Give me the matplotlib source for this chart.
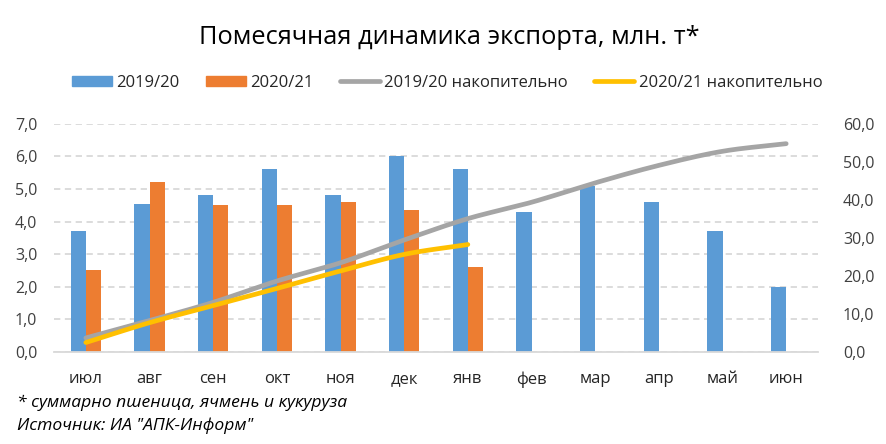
import numpy as np
import matplotlib
matplotlib.use("Agg")
import matplotlib.pyplot as plt
from matplotlib.patches import Patch
from matplotlib.lines import Line2D

plt.rcParams['font.family'] = ['Open Sans', 'DejaVu Sans']

months = ["июл", "авг", "сен", "окт", "ноя", "дек", "янв", "фев", "мар", "апр", "май", "июн"]
exp_1920 = [3.7, 4.55, 4.8, 5.6, 4.8, 6.0, 5.6, 4.3, 5.1, 4.6, 3.7, 2.0]
exp_2021 = [2.5, 5.2, 4.5, 4.5, 4.6, 4.35, 2.6]
cum_1920 = [3.7, 8.25, 13.05, 18.65, 23.45, 29.45, 35.05, 39.35, 44.45, 49.05, 52.75, 54.75]
cum_2021 = [2.5, 7.7, 12.2, 16.7, 21.3, 25.65, 28.25]
left_ticks = [0, 1, 2, 3, 4, 5, 6, 7]
right_ticks = [0, 10, 20, 30, 40, 50, 60]

C_BLUE = "#5B9BD5"
C_ORANGE = "#ED7D31"
C_GRAY = "#A5A5A5"
C_YELLOW = "#FFC000"
C_GRID = "#D9D9D9"


def smooth(x, y, n=20):
    x = np.asarray(x, float)
    y = np.asarray(y, float)
    if len(x) < 3:
        return x, y
    px = np.concatenate([[2 * x[0] - x[1]], x, [2 * x[-1] - x[-2]]])
    py = np.concatenate([[2 * y[0] - y[1]], y, [2 * y[-1] - y[-2]]])
    xs, ys = [], []
    t = np.linspace(0, 1, n, endpoint=False)
    for i in range(1, len(px) - 2):
        p0, p1, p2, p3 = (np.array([px[j], py[j]]) for j in (i - 1, i, i + 1, i + 2))
        tt = t[:, None]
        pts = 0.5 * ((2 * p1) + (-p0 + p2) * tt + (2 * p0 - 5 * p1 + 4 * p2 - p3) * tt ** 2
                     + (-p0 + 3 * p1 - 3 * p2 + p3) * tt ** 3)
        xs.extend(pts[:, 0])
        ys.extend(pts[:, 1])
    xs.append(x[-1])
    ys.append(y[-1])
    return np.array(xs), np.array(ys)


fig = plt.figure(figsize=(8.86, 4.44), dpi=100)
ax = fig.add_axes([54 / 886, 1 - 352 / 444, (818 - 54) / 886, (352 - 123.7) / 444])
ax2 = ax.twinx()

x = np.arange(len(months))
w = 0.24
ax.bar(x[:len(exp_1920)] - w / 2, exp_1920, w, color=C_BLUE, zorder=2)
ax.bar(x[:len(exp_2021)] + w / 2, exp_2021, w, color=C_ORANGE, zorder=2)

ax.set_xlim(-0.5, len(months) - 0.5)
ax.set_ylim(0, 7)
ax.set_yticks(left_ticks)
ax.set_yticklabels([f"{v:.1f}".replace(".", ",") for v in left_ticks])
ax.set_xticks(x)
ax.set_xticklabels(months)
ax.yaxis.grid(True, color=C_GRID, linestyle=(0, (3.5, 2.5)), linewidth=1.3, zorder=0)
ax.set_axisbelow(True)
for s in ["top", "right", "left"]:
    ax.spines[s].set_visible(False)
ax.spines["bottom"].set_color(C_GRID)
ax.spines["bottom"].set_linewidth(1.3)
ax.tick_params(axis="both", length=0, labelsize=11.5, colors="#404040")
ax.tick_params(axis="x", pad=14, labelsize=12, colors="#262626")
ax.tick_params(axis="y", pad=12)

sx, sy = smooth(x[:len(cum_1920)], cum_1920)
ax2.plot(sx, sy, color=C_GRAY, lw=3.4, solid_capstyle="round", zorder=3)
sx, sy = smooth(x[:len(cum_2021)], cum_2021)
ax2.plot(sx, sy, color=C_YELLOW, lw=3.4, solid_capstyle="round", zorder=4)
ax2.set_ylim(0, 60)
ax2.set_yticks(right_ticks)
ax2.set_yticklabels([f"{v:.1f}".replace(".", ",") for v in right_ticks])
ax2.tick_params(axis="y", length=0, labelsize=11.5, colors="#404040", pad=18)
for s in ["top", "right", "left", "bottom"]:
    ax2.spines[s].set_visible(False)

fig.text(449 / 886, 1 - 38 / 444, "Помесячная динамика экспорта, млн. т*",
         ha="center", va="center", fontsize=18.3, color="#000000")

handles = [Patch(color=C_BLUE), Patch(color=C_ORANGE),
           Line2D([], [], color=C_GRAY, lw=3.4, solid_capstyle="round"),
           Line2D([], [], color=C_YELLOW, lw=3.4, solid_capstyle="round")]
labels = ["2019/20", "2020/21", "2019/20 накопительно", "2020/21 накопительно"]
fig.legend(handles, labels, loc="center", bbox_to_anchor=(447 / 886, 1 - 83 / 444), ncol=4,
           frameon=False, fontsize=12, handlelength=2.4, handleheight=0.6,
           handletextpad=0.25, columnspacing=1.6, labelcolor="#262626")

fig.text(17 / 886, 1 - 403 / 444, "* суммарно пшеница, ячмень и кукуруза",
         ha="left", va="center", fontsize=12.6, style="italic", color="#000000")
fig.text(17 / 886, 1 - 426 / 444, "Источник: ИА \"АПК-Информ\"",
         ha="left", va="center", fontsize=12.6, style="italic", color="#000000")

fig.savefig("out.png", dpi=100)
